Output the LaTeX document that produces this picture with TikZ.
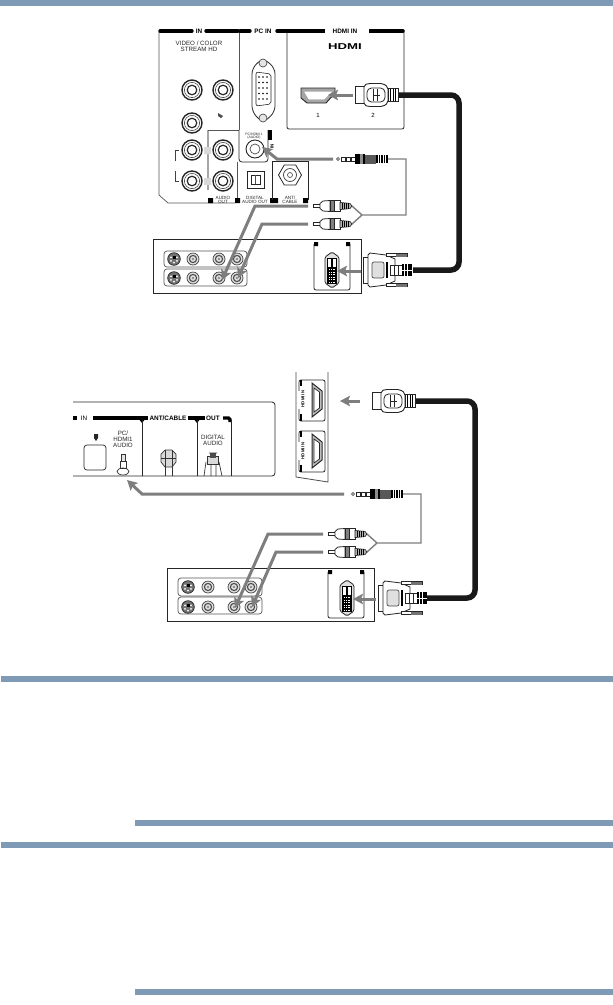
\documentclass[tikz,border=0pt]{standalone}
\usepackage{fontspec}
\setmainfont{Liberation Sans}
\usetikzlibrary{arrows.meta,shapes.geometric}
\definecolor{barblue}{HTML}{7F9AB5}
\definecolor{wiregray}{HTML}{7E7E7E}
\definecolor{panelgray}{HTML}{555555}
\newcommand{\tinyfont}{\fontsize{4}{4.5}\selectfont}
\newcommand{\smallfont}{\fontsize{6.2}{7}\selectfont}
\newcommand{\headfont}{\fontsize{6.4}{7}\selectfont\bfseries}
\tikzset{
  x=1pt,y=-1pt,
  lbl/.style={inner sep=0pt,font=\smallfont,align=center,text=black!85},
  tinylbl/.style={inner sep=0pt,font=\tinyfont,align=center,text=black!85},
  headlbl/.style={inner sep=0pt,font=\headfont,text=black},
  headbar/.style={line width=3.4pt,black,line cap=round},
  panel/.style={draw=black!85,line width=0.8pt},
  softpanel/.style={draw=panelgray,line width=0.7pt},
  tab/.style={fill=black,draw=none},
  wirearrow/.style={wiregray,line width=3pt,line join=miter,-{Stealth[length=10pt,width=10.5pt,inset=2pt]}},
  wirethin/.style={wiregray,line width=1.4pt,line join=miter},
  bigcable/.style={black!90,line width=5.5pt,rounded corners=8pt},
  rcajack/.pic={
    \draw[black!85,line width=1.4pt,fill=white] (0,0) circle (10);
    \draw[black!70,line width=0.6pt] (0,0) circle (7.6);
    \draw[black!85,line width=1.2pt] (0,0) circle (4.8);
  },
  smalljack/.pic={
    \draw[black!75,line width=0.7pt,fill=black!12] (0,0) circle (6);
    \draw[black!70,line width=1.1pt] (0,0) circle (3.6);
    \fill[black!45] (0,0) circle (1.4);
  },
  svideojack/.pic={
    \draw[black!85,line width=0.7pt,fill=black!55] (0,0) circle (6.3);
    \fill[white] (-3,-1.6) circle (1) (3,-1.6) circle (1) (-3,1.8) circle (1) (3,1.8) circle (1) (0,3.6) circle (0.9);
    \fill[black] (-1.5,-3) rectangle (1.5,-0.5);
  },
  rcaplug/.pic={
    \draw[black!85,line width=0.7pt,fill=white] (0,-1.8) rectangle (7,1.8);
    \draw[black!85,line width=0.8pt,fill=white] (7,-2.5) -- (10,-5) -- (17,-5.5) -- (17,5.5) -- (10,5) -- (7,2.5) -- cycle;
    \draw[black!85,line width=0.8pt,fill=black!50] (17,-5.5) rectangle (21,5.5);
    \draw[black!85,line width=0.8pt,fill=white] (21,-5.5) rectangle (27,5.5);
    \draw[black!85,line width=0.6pt,fill=black!30] (27,-3.6) -- (37,-2.6) -- (39,0) -- (37,2.6) -- (27,3.6) -- cycle;
    \foreach \k in {29,31,33,35} \draw[black,line width=0.7pt] (\k,-3) -- (\k,3);
  },
  stereoplug/.pic={
    \draw[black!85,line width=0.6pt,fill=white] (0,0) ellipse (1.5 and 1.5);
    \draw[black!85,line width=0.6pt,fill=white] (3,-1.9) rectangle (7,1.9);
    \draw[black!85,line width=0.6pt,fill=white] (7.8,-2.2) rectangle (12,2.2);
    \draw[black!85,line width=0.6pt,fill=white] (12.8,-2.2) rectangle (17,2.2);
    \fill[black] (17,-5) rectangle (27,5);
    \fill[black!45] (22,-5) rectangle (25,5);
    \fill[black!65] (27,-4.5) rectangle (38,4.5);
    \fill[black] (38,-4) rectangle (50,4);
    \foreach \k in {40,42.5,45,47.5} \draw[white,line width=0.5pt] (\k,-4) -- (\k,4);
  },
  hdmiplug/.pic={
    \draw[black!85,line width=0.9pt,fill=white] (0,-8.5) rectangle (9,8.5);
    \draw[black!85,line width=0.9pt,fill=white,rounded corners=2pt] (9,-10) -- (13,-11.5) -- (28,-11.5) -- (33,-8) -- (33,8) -- (28,11.5) -- (13,11.5) -- (9,10) -- cycle;
    \draw[black!85,line width=0.8pt,fill=white,rounded corners=4.5pt] (12,-7) rectangle (30,7);
    \draw[black!85,line width=0.7pt] (18,-6) -- (18,6) (18,0) -- (25,0) (22,-6) -- (22,6);
    \draw[black!85,line width=0.8pt,fill=white] (33,-6.5) rectangle (43,6.5);
    \foreach \k in {35,37.5,40} \fill[black] (\k,-6) rectangle (\k+1.2,6);
  },
  dviplug/.pic={
    \draw[black!85,line width=0.7pt,fill=white] (0,-13) rectangle (5,13);
    \draw[black!85,line width=0.8pt,fill=white] (5,-15) -- (7,-17) -- (23,-15) -- (32,-11) -- (32,11) -- (23,15) -- (7,17) -- (5,15) -- cycle;
    \draw[black!70,line width=0.7pt,fill=black!12,rounded corners=2pt] (9,-8) rectangle (21,8);
    \fill[black] (23,-8) rectangle (25,8);
    \draw[black!85,line width=0.7pt,fill=white] (23,-13.5) -- (44,-13.5) -- (44,-16.5) -- (23,-16.5) -- cycle;
    \fill[black!55] (33,-16.5) rectangle (44,-13.5);
    \draw[black!85,line width=0.7pt,fill=white] (23,13.5) -- (44,13.5) -- (44,16.5) -- (23,16.5) -- cycle;
    \fill[black!55] (33,13.5) rectangle (44,16.5);
    \draw[black!85,line width=0.7pt,fill=white] (27,-5) rectangle (31,5) (31,-5) rectangle (35,5) (35,-5) rectangle (39,5);
    \fill[black] (39,-6) rectangle (49,6);
    \draw[white,line width=0.6pt] (41,-6) -- (41,6) (44,-6) -- (44,6) (39,0) -- (49,0);
  },
  dviport/.pic={
    \draw[black!85,line width=0.8pt,fill=black!12,rounded corners=1.5pt] (-7,-13) -- (0,-18) -- (7,-13) -- (7,13) -- (0,18) -- (-7,13) -- cycle;
    \draw[black,line width=0.5pt,fill=white] (-4.5,-12) rectangle (4.5,13);
    \fill[black] (-4.5,-3) rectangle (4.5,13);
    \fill[black] (-1,-12) rectangle (1,-3);
    \foreach \i in {-3,-1.2,0.6,2.4} \foreach \j in {-1,1.5,...,12} \fill[white] (\i,\j) rectangle (\i+0.8,\j+0.9);
  },
  hdmiport/.pic={
    \draw[black!85,line width=0.8pt,rounded corners=2pt] (-13,-20) rectangle (13,21);
    \fill[white] (-14,-9) rectangle (-8,9);
    \draw[black,line width=2.6pt] (-11,-20) -- (-11,-14) (-11,14) -- (-11,21);
    \draw[black!85,line width=1pt,fill=black!25] (0,-17) -- (10,-9) -- (10,9) -- (0,17) -- cycle;
    \draw[black!85,line width=0.7pt,fill=white] (2,-12) -- (7.5,-8) -- (7.5,8) -- (2,12) -- cycle;
  },
}
\begin{document}
\begin{tikzpicture}
\useasboundingbox (0,0) rectangle (613,1005);
\fill[white] (0,0) rectangle (613,1005);
% page bars
\fill[barblue] (0,0) rectangle (613,6);
\fill[barblue] (1,676) rectangle (613,682);
\fill[barblue] (135,820) rectangle (613,826);
\fill[barblue] (1,842) rectangle (613,848);
\fill[barblue] (135,989) rectangle (613,995);

%% ===== upper diagram: TV back panel =====
\draw[softpanel] (159,32) -- (159,195) -- (168,203) -- (235,203);
\draw[softpanel] (239,30) -- (239,130);
\draw[panel,rounded corners=2pt] (287,30) -- (287,129) -- (404,129) -- (404,30);
\draw[headbar] (160,31) -- (192,31);
\draw[headbar] (206,31) -- (238,31);
\draw[headbar] (240,31) -- (250,31);
\draw[headbar] (277,31) -- (403,31);
\fill[white] (325,28) rectangle (369,34);
\node[headlbl] (hin) at (199,31) {IN};
\node[headlbl] (hpc) at (263,31) {PC IN};
\node[headlbl] (hhd) at (345,31) {HDMI IN};
\node[lbl] (tvid) at (199,46) {VIDEO / COLOR\\[-1.2pt]STREAM HD};
\node[inner sep=0pt,xscale=1.55,font=\fontsize{8.5}{9}\selectfont\bfseries] (thd) at (345,47) {HDMI};
% VGA
\draw[black!85,line width=0.8pt,fill=white,rounded corners=6pt] (263,58) -- (275,68) -- (275,112) -- (263,123) -- (252,112) -- (252,68) -- cycle;
\draw[black!70,line width=0.7pt,fill=black!10] (263,63) circle (4);
\draw[black!70,line width=0.7pt,fill=black!10] (263,118) circle (4);
\draw[black!85,line width=0.6pt,rounded corners=2pt] (256,72) -- (271,74) -- (271,104) -- (256,106) -- cycle;
\foreach \i in {0,1,2} \foreach \j in {0,1,2,3,4} \fill[black] (259+4*\i,77+5.5*\j) circle (0.8);
% RCA jacks
\pic at (192,90) {rcajack};
\pic at (223,90) {rcajack};
\pic at (192,123) {rcajack};
\pic at (192,150) {rcajack};
\pic at (223,150) {rcajack};
\pic at (192,181) {rcajack};
\pic at (223,181) {rcajack};
\fill[black!70] (218,113) -- (223,116) -- (221,118) -- (218,116) -- cycle;
% audio out sub-panel
\draw[black!35,line width=1.2pt,rounded corners=2pt] (208,130) -- (208,190);
\draw[softpanel] (239,130) -- (208,130);
\fill[black!15] (204,147) rectangle (211,154) (204,178) rectangle (211,185);
\draw[black!75,line width=0.7pt] (179,150) -- (175,150) -- (175,161) (175,171) -- (175,181) -- (179,181);
\draw[softpanel] (237,162) -- (237,200);
\fill[tab] (208,198) rectangle (213,203) (235,198) rectangle (240,203) (270,198) rectangle (278,203) (303,198) rectangle (308,203);
\node[tinylbl,font=\fontsize{4.6}{5}\selectfont] (taud) at (223,200) {AUDIO\\[-0.6pt]OUT};
% PC/HDMI1 audio
\draw[panel,rounded corners=3pt] (239,130) -- (239,162) -- (268,162) -- (268,130);
\fill[black] (268,130) rectangle (272,140);
\node[tinylbl,font=\fontsize{3.4}{3.6}\selectfont] (tpc) at (254,136) {PC/HDMI 1\\[-0.8pt](AUDIO)};
\node[inner sep=0pt,rotate=90,font=\fontsize{4.5}{5}\selectfont\bfseries] (tin2) at (272,146) {IN};
\draw[black!85,line width=0.9pt,fill=white] (255,149) circle (9);
\draw[black!70,line width=0.7pt] (255,149) circle (5);
% digital audio + ant
\draw[black!85,line width=0.9pt,fill=white] (247,171) rectangle (264,188);
\draw[black!85,line width=0.7pt] (251,175) rectangle (260,184);
\draw[black!70,line width=0.6pt] (255.5,175) -- (255.5,184);
\node[tinylbl,font=\fontsize{4.6}{5}\selectfont] (tdig) at (255,200) {DIGITAL\\[-0.6pt]AUDIO OUT};
\draw[black!85,line width=0.7pt] (272,162) -- (272,200);
\draw[black!85,line width=0.7pt] (272,161) -- (308,161) -- (308,200);
\node[regular polygon,regular polygon sides=6,shape border rotate=0,draw=black!85,line width=0.8pt,minimum size=23pt,inner sep=0pt] (anthex) at (290,175) {};
\draw[black!75,line width=0.7pt] (290,175) circle (6.5);
\draw[black!75,line width=0.6pt] (290,175) circle (2.5);
\node[tinylbl,font=\fontsize{4.6}{5}\selectfont] (tant) at (290,200) {ANT/\\[-0.6pt]CABLE};
% HDMI port 1
\draw[black!85,line width=0.9pt,fill=black!35] (301,88) -- (335,88) -- (335,93) -- (326,103) -- (307,103) -- (301,98) -- cycle;
\draw[white,line width=0.9pt,fill=white] (305,92) -- (331,92) -- (324,99) -- (309,99) -- cycle;
\node[inner sep=0pt,font=\fontsize{6}{6}\selectfont] (tn1) at (318,115) {1};
\node[inner sep=0pt,font=\fontsize{6}{6}\selectfont] (tn2) at (373,115) {2};

% device box, upper
\draw[panel] (153,239) rectangle (361,293);
\draw[softpanel,rounded corners=3pt] (164,251) rectangle (247,267);
\draw[softpanel,rounded corners=3pt] (164,269) rectangle (247,286);
\pic at (174,259) {svideojack};
\pic at (193,259) {smalljack};
\pic at (219,259) {smalljack};
\pic at (237,259) {smalljack};
\pic at (174,278) {svideojack};
\pic at (193,278) {smalljack};
\pic at (219,278) {smalljack};
\pic at (237,278) {smalljack};
\draw[panel,rounded corners=2pt] (314,244) -- (314,290) -- (350,290) -- (350,244);
\fill[tab] (314,242) rectangle (318,246) (346,242) rectangle (350,246);
\pic at (332,270) {dviport};

% named ends
\coordinate (uhdmiport) at (328,95);
\coordinate (uhdmiplug) at (355,95);
\coordinate (uhdmitail) at (398,95);
\coordinate (ucabcorner1) at (459,95);
\coordinate (ucabcorner2) at (459,270);
\coordinate (udvitail) at (413,270);
\coordinate (udviplug) at (363,270);
\coordinate (udviport) at (337,271);
\coordinate (ujack) at (262,147);
\coordinate (ustereo) at (338,159);
\coordinate (ustereotail) at (388,159);
\coordinate (urca1) at (313,206);
\coordinate (urca2) at (313,224);
\coordinate (urca1t) at (352,206);
\coordinate (urca2t) at (352,224);
\coordinate (ufork) at (362,215);
\coordinate (urcaj1) at (222,280);
\coordinate (urcaj2) at (238,278);

\draw[bigcable] (uhdmitail) -- (ucabcorner1) -- (ucabcorner2) -- (udvitail);
\draw[wirethin] (ustereotail) -- (406,159) -- (406,215) -- (ufork) -- (urca1t);
\draw[wirethin] (ufork) -- (urca2t);
\draw[wirearrow] ([xshift=-2pt]uhdmiplug) -- (uhdmiport);
\draw[wirearrow] ([xshift=-5pt]ustereo) -- (277,159) -- (ujack);
\draw[wirearrow] ([xshift=-5pt]urca1) -- (255,206) -- (urcaj1);
\draw[wirearrow] ([xshift=-5pt]urca2) -- (262,224) -- (urcaj2);
\draw[wirearrow] (361,271) -- (udviport);
\pic at (uhdmiplug) {hdmiplug};
\pic at (ustereo) {stereoplug};
\pic at (urca1) {rcaplug};
\pic at (urca2) {rcaplug};
\pic at (udviplug) {dviplug};

%% ===== lower diagram =====
\draw[panel,rounded corners=3pt] (73,402) -- (275,402) -- (275,476) -- (73,476);
\draw[headbar,line cap=butt] (73,418) -- (77,418);
\draw[headbar,line cap=butt] (93,418) -- (148,418);
\draw[headbar,line cap=butt] (188,418) -- (205,418);
\draw[headbar,line cap=butt,rounded corners=1.5pt] (223,418) -- (230,418) -- (230,422);
\fill[black] (138,418) -- (146,418) -- (142,423) -- cycle (193,418) -- (201,418) -- (197,423) -- cycle;
\node[headlbl,font=\fontsize{6.4}{7}\selectfont] (lin) at (84,418) {IN};
\node[headlbl] (lant) at (168,418) {ANT/CABLE};
\node[headlbl] (lout) at (213,418) {OUT};
\draw[black!85,line width=0.8pt] (142,420) -- (142,476) (197,420) -- (197,476) (231,420) -- (231,476);
\draw[black!85,line width=0.7pt,rounded corners=3pt] (84,445) rectangle (106,470);
\fill[black!85] (94,434) -- (98,434) -- (98,438) -- (96,441) -- (94,438) -- cycle;
\node[lbl] (lpc) at (123,439) {PC/\\[-1.2pt]HDMI1\\[-1.2pt]AUDIO};
\node[lbl] (ldig) at (213,440) {DIGITAL\\[-1.2pt]AUDIO};
% 3.5mm plug on panel
\draw[black!80,line width=0.7pt,fill=black!10] (121,454) rectangle (125,461);
\draw[black!80,line width=0.7pt,fill=white] (120,461) rectangle (126,468);
\draw[black!80,line width=0.7pt] (123,471.5) ellipse (6 and 3.5);
% coax
\draw[black!80,line width=0.7pt,fill=black!15] (161,454) -- (165,450) -- (172,450) -- (176,454) -- (176,462) -- (172,467) -- (165,467) -- (161,462) -- cycle;
\draw[black!80,line width=0.7pt] (161,458) -- (176,458) (165,450) -- (165,467) (172,450) -- (172,467) (165,467) -- (165,476) (172,467) -- (172,476);
% optical plug
\draw[black!80,line width=0.7pt,fill=black!15] (207,456) rectangle (218,464);
\fill[black!70] (210,453) rectangle (216,458);
\draw[black!80,line width=0.7pt] (209,453) -- (217,453) (204,476) -- (206,462) (222,476) -- (219,462) (211,464) -- (211,476) (216,464) -- (216,476);
% side HDMI panel
\draw[panel,draw=black!70] (296,372) -- (296,477) -- (328,482) -- (328,372);
\pic at (312,400) {hdmiport};
\pic at (312,451) {hdmiport};
\node[headlbl,rotate=90,font=\fontsize{4.2}{5}\selectfont\bfseries] (lh1) at (303,399) {HDMI IN};
\node[headlbl,rotate=90,font=\fontsize{4.2}{5}\selectfont\bfseries] (lh2) at (303,451) {HDMI IN};

% device box, lower
\draw[panel] (167,568) rectangle (374,621);
\draw[softpanel,rounded corners=3pt] (178,578) rectangle (262,596);
\draw[softpanel,rounded corners=3pt] (178,597) rectangle (262,614);
\pic at (188,587) {svideojack};
\pic at (208,587) {smalljack};
\pic at (234,587) {smalljack};
\pic at (251,587) {smalljack};
\pic at (188,607) {svideojack};
\pic at (208,607) {smalljack};
\pic at (234,607) {smalljack};
\pic at (251,607) {smalljack};
\draw[panel,rounded corners=2pt] (328,572) -- (328,618) -- (364,618) -- (364,572);
\fill[tab] (328,570) rectangle (332,574) (360,570) rectangle (364,574);
\pic at (347,598) {dviport};

\coordinate (lhdmiport) at (340,401);
\coordinate (lhdmiplug) at (372,401);
\coordinate (lhdmitail) at (415,401);
\coordinate (lcabcorner1) at (475,401);
\coordinate (lcabcorner2) at (475,598);
\coordinate (ldvitail) at (427,598);
\coordinate (ldviplug) at (378,598);
\coordinate (ldviport) at (353,599);
\coordinate (ljack) at (127,480);
\coordinate (lstereo) at (353,494);
\coordinate (lstereotail) at (403,494);
\coordinate (lrca1) at (328,534);
\coordinate (lrca2) at (328,552);
\coordinate (lrca1t) at (367,534);
\coordinate (lrca2t) at (367,552);
\coordinate (lfork) at (377,543);
\coordinate (lrcaj1) at (235,608);
\coordinate (lrcaj2) at (252,607);

\draw[bigcable] (lhdmitail) -- (lcabcorner1) -- (lcabcorner2) -- (ldvitail);
\draw[wirethin] (lstereotail) -- (421,494) -- (421,543) -- (lfork) -- (lrca1t);
\draw[wirethin] (lfork) -- (lrca2t);
\draw[wirearrow] (360,401) -- (lhdmiport);
\draw[wirearrow] (344,494) -- (142,494) -- (ljack);
\draw[wirearrow] (323,534) -- (268,534) -- (lrcaj1);
\draw[wirearrow] (323,552) -- (276,552) -- (lrcaj2);
\draw[wirearrow] (376,599) -- (ldviport);
\pic at (lhdmiplug) {hdmiplug};
\pic at (lstereo) {stereoplug};
\pic at (lrca1) {rcaplug};
\pic at (lrca2) {rcaplug};
\pic at (ldviplug) {dviplug};
\end{tikzpicture}
\end{document}
